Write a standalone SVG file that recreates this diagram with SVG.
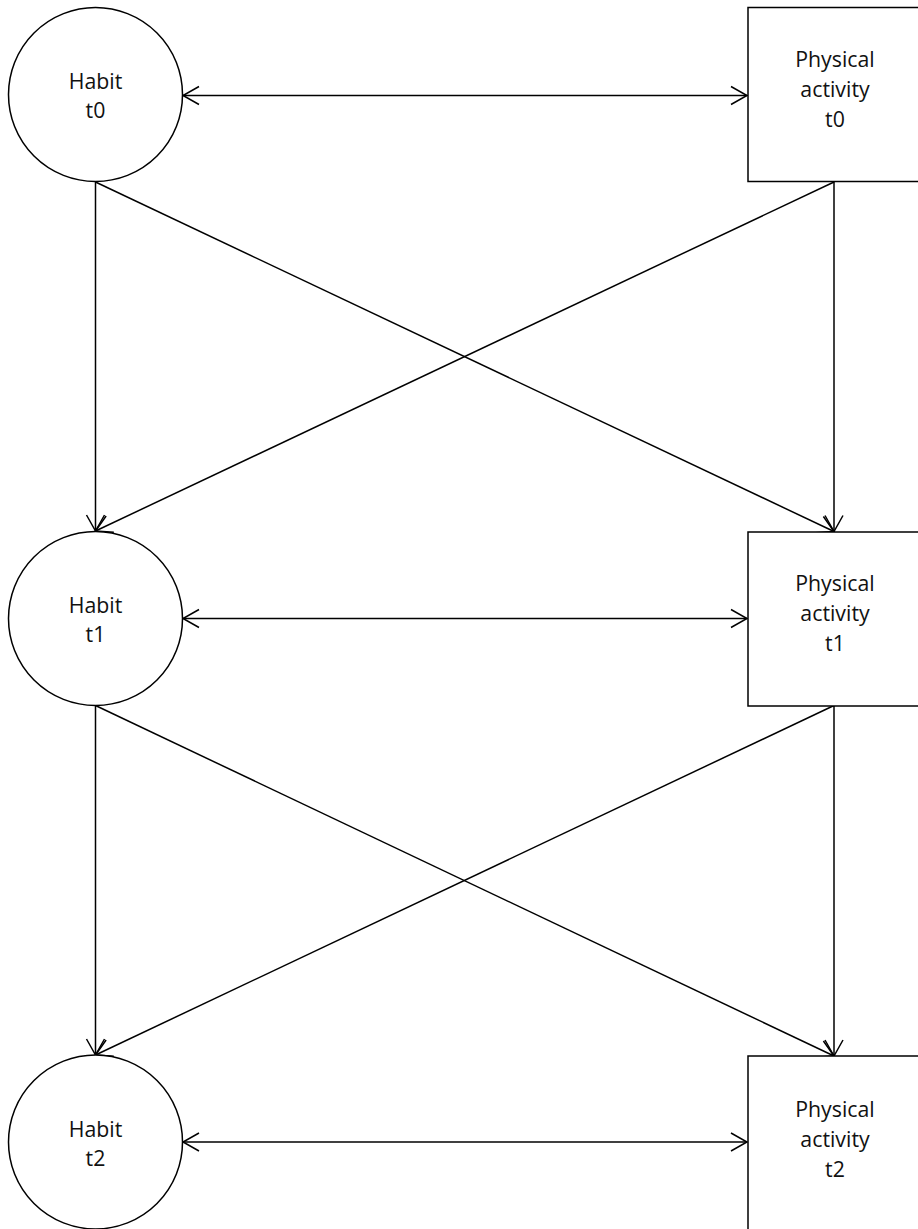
<svg xmlns="http://www.w3.org/2000/svg" width="918" height="1229" viewBox="0 0 918 1229">
<style>
.n{fill:#fff;stroke:#000;stroke-width:1.5}
.t{font-family:"Open Sans","Liberation Sans",sans-serif;font-size:21.3px;fill:#111;text-anchor:middle}
.c line{stroke:#000;stroke-width:1.5;fill:none}
</style>
<defs>
<marker id="a" markerUnits="userSpaceOnUse" markerWidth="20" markerHeight="22" refX="17" refY="10" orient="auto-start-reverse" viewBox="0 0 20 20">
<path d="M1,1 L17,10 L1,19" fill="none" stroke="#000" stroke-width="1.5"/>
</marker>
</defs>
<rect width="918" height="1229" fill="#fff"/>
<g class="c" id="connectors">
<line x1="183" y1="95.5" x2="747" y2="95.5" marker-start="url(#a)" marker-end="url(#a)"/>
<line x1="183" y1="618.5" x2="747" y2="618.5" marker-start="url(#a)" marker-end="url(#a)"/>
<line x1="183" y1="1142" x2="747" y2="1142" marker-start="url(#a)" marker-end="url(#a)"/>
<line x1="95.5" y1="182" x2="95.5" y2="531" marker-end="url(#a)"/>
<line x1="834" y1="182" x2="834" y2="531.5" marker-end="url(#a)"/>
<line x1="95.5" y1="182" x2="834" y2="531.5" marker-end="url(#a)"/>
<line x1="834" y1="182" x2="95.5" y2="531" marker-end="url(#a)"/>
<line x1="95.5" y1="705.5" x2="95.5" y2="1055" marker-end="url(#a)"/>
<line x1="834" y1="705.5" x2="834" y2="1056" marker-end="url(#a)"/>
<line x1="95.5" y1="705.5" x2="834" y2="1056" marker-end="url(#a)"/>
<line x1="834" y1="705.5" x2="95.5" y2="1055" marker-end="url(#a)"/>
</g>
<g id="habit-t0"><circle class="n" cx="95.5" cy="94.5" r="87"/><text class="t" x="95.5" y="89">Habit</text><text class="t" x="95.5" y="118">t0</text></g>
<g id="habit-t1"><circle class="n" cx="95.5" cy="618.5" r="87"/><text class="t" x="95.5" y="613">Habit</text><text class="t" x="95.5" y="642">t1</text></g>
<g id="habit-t2"><circle class="n" cx="95.5" cy="1142" r="87"/><text class="t" x="95.5" y="1137">Habit</text><text class="t" x="95.5" y="1166">t2</text></g>
<g id="pa-t0"><rect class="n" x="748" y="7.5" width="174" height="174"/><text class="t" x="835" y="67">Physical</text><text class="t" x="835" y="97">activity</text><text class="t" x="835" y="127">t0</text></g>
<g id="pa-t1"><rect class="n" x="748" y="532" width="174" height="174"/><text class="t" x="835" y="591">Physical</text><text class="t" x="835" y="621">activity</text><text class="t" x="835" y="651">t1</text></g>
<g id="pa-t2"><rect class="n" x="748" y="1056" width="174" height="174"/><text class="t" x="835" y="1117">Physical</text><text class="t" x="835" y="1147">activity</text><text class="t" x="835" y="1177">t2</text></g>
</svg>
